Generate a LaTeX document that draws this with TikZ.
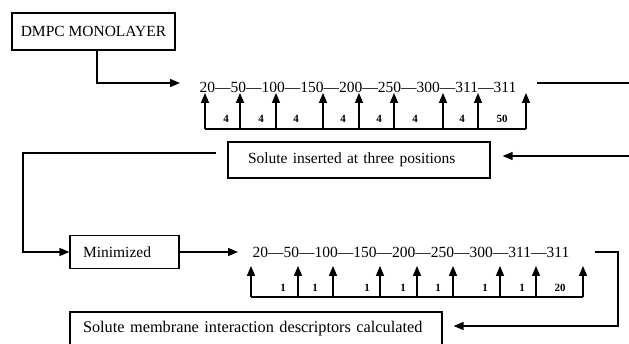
\documentclass[tikz,border=0pt]{standalone}
\usepackage{fontspec}
\setmainfont{Liberation Serif}
\usetikzlibrary{arrows.meta}

\begin{document}
\begin{tikzpicture}
  [x=1pt,y=-1pt,line width=1.4pt,>={Triangle[length=10pt,width=8pt]},
   every node/.style={inner sep=0pt}]

  \tikzstyle{box} = [draw, rectangle, line width=1.2pt, font=\fontsize{15.5}{18}\selectfont]
  \tikzstyle{row} = [font=\fontsize{15.5}{18}\selectfont]
  \tikzstyle{gap} = [font=\fontsize{11}{12}\selectfont\bfseries]

  \useasboundingbox (0,0) rectangle (629,344);
  \clip (0,0) rectangle (629,344);

  \node[box, minimum width=163pt, minimum height=37pt] (dmpc) at (93.5,31.5) {DMPC MONOLAYER};
  \node[box, minimum height=36pt, text width=222pt, inner xsep=20pt, align=left]
        (solute) at (359,160) {Solute inserted at three positions};
  \node[box, minimum height=33pt, text width=83pt, inner xsep=13pt, align=left]
        (minim) at (124.5,252) {Minimized};
  \node[box, minimum height=34pt, text width=346pt, inner xsep=13pt, align=left,
        font=\fontsize{16.3}{18}\selectfont]
        (descr) at (256,329) {Solute membrane interaction descriptors calculated};

  \node[row, anchor=west] (row1) at (199,87) {20—50—100—150—200—250—300—311—311};
  \node[row, anchor=west] (row2) at (252,252) {20—50—100—150—200—250—300—311—311};

  % first run
  \foreach \x [count=\i] in {205,240,276,323,359,394,443,478,526} {
    \coordinate (a\i) at (\x,129);
    \draw[->] (a\i) -- (a\i |- row1.south);
  }
  \draw (a1) -- (a9);
  \foreach \x/\n in {226/4,261/4,296/4,343/4,379/4,415/4,462/4,502/50}
    \node[gap] (g\x) at (\x,119) {\n};

  % second run
  \foreach \x [count=\i] in {251,298,333,380,417,453,500,536,583} {
    \coordinate (b\i) at (\x,297);
    \draw[->] (b\i) -- ([yshift=-8pt]b\i |- row2.south);
  }
  \draw (b1) -- (b9);
  \foreach \x/\n in {283/1,315/1,367/1,403/1,438/1,485/1,522/1,560/20}
    \node[gap] (h\x) at (\x,288) {\n};

  % flow
  \coordinate (topin)  at (537,83);
  \coordinate (topout) at (629,83);
  \coordinate (midout) at (629,156);
  \coordinate (bend)   at (23,153);
  \coordinate (turn)   at (618,326);

  \draw[->] ([xshift=3.5pt]dmpc.south) |- ([xshift=-19pt,yshift=4pt]row1.west);
  \draw (topin) -- (topout);
  \draw[->] (midout) -- ([xshift=12pt]solute.east |- midout);
  \draw[->] ([xshift=-11pt]solute.west |- bend) -- (bend) |- (minim.west);
  \draw[->] (minim.east) -- ([xshift=-14pt]row2.west);
  \draw[->] ([xshift=25pt]row2.east) -| (turn) -- ([xshift=11pt]descr.east |- turn);
\end{tikzpicture}
\end{document}
